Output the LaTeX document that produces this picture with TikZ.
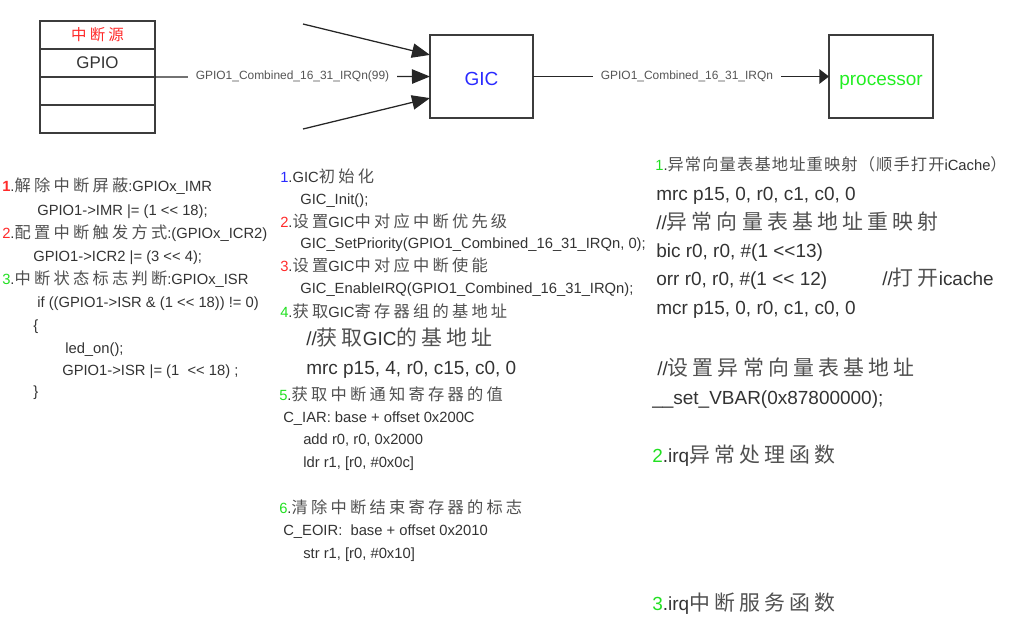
\documentclass[tikz,border=0pt]{standalone}
\usepackage{fontspec}
\setmainfont{Liberation Sans}
\newfontfamily\zhfont[Scale=1.1,LetterSpace=20]{Noto Sans CJK SC}
\newfontfamily\zhtight[Scale=1.1,LetterSpace=7]{Noto Sans CJK SC}
\usetikzlibrary{arrows.meta,positioning,calc}
\definecolor{Txt}{HTML}{333333}
\definecolor{ZhTxt}{HTML}{505050}
\definecolor{LblGray}{HTML}{555555}
\definecolor{Edge}{HTML}{3C3C3C}
\definecolor{NumRed}{HTML}{FF2A2A}
\definecolor{NumGreen}{HTML}{22E022}
\definecolor{NumBlue}{HTML}{2A2AFF}
\definecolor{ProcGreen}{HTML}{22EE22}
\newcommand{\SmallTxt}{\fontsize{10.5pt}{12pt}\selectfont}
\newcommand{\BigTxt}{\fontsize{13.5pt}{16pt}\selectfont}
\newcommand{\LblTxt}{\fontsize{8.5pt}{10pt}\selectfont}
\newcommand{\GpioTxt}{\fontsize{12pt}{14pt}\selectfont}
\newcommand{\zh}[1]{{\zhfont\color{ZhTxt}#1}}
\newcommand{\zht}[1]{{\zhtight\color{ZhTxt}#1}}
\newcommand{\Num}[2]{{\color{#1}#2}.}
\newcommand{\CodeLn}[4]{%
  \node[code] (#1) at (#2,#3) {#4};%
}
\newcommand{\BigLn}[4]{%
  \node[code,font=\BigTxt] (#1) at (#2,#3) {#4};%
}

\begin{document}
\begin{tikzpicture}[x=0.025cm,y=-0.025cm,
  cell/.style={draw=Edge,line width=0.9pt,outer sep=0pt,inner sep=0pt,minimum width=2.875cm,minimum height=0.7cm},
  blk/.style={draw=Edge,line width=0.9pt,outer sep=0pt,minimum height=2.075cm,font=\BigTxt,text height=12.5pt,text depth=0pt},
  sig/.style={line width=0.9pt,draw=black!85,-{Triangle[length=0.45cm,width=0.36cm]}},
  lbl/.style={midway,fill=white,inner xsep=0.2cm,inner ysep=1pt,font=\LblTxt,text=LblGray},
  code/.style={anchor=base west,inner sep=0pt,font=\SmallTxt,text=Txt}]
\useasboundingbox (0,0) rectangle (1016,641);
% interrupt source table
\node[cell,text=NumRed] (src) at (97.5,35) {\zhfont 中断源};
\node[cell,below=0pt of src,font=\GpioTxt,text=Txt] (gpio) {GPIO};
\node[cell,below=0pt of gpio] (row3) {};
\node[cell,below=0pt of row3] (row4) {};
% GIC and processor
\node[blk,minimum width=2.575cm,text=NumBlue] (gic) at (481.5,76.5) {GIC};
\node[blk,minimum width=2.6cm,text=ProcGreen] (cpu) at (881,76.5) {processor};
\coordinate (in1) at (303,24);
\coordinate (in3) at (303,129);
\draw[sig] (in1) -- ($(gic.north west)!0.24!(gic.south west)$);
\draw[sig] (in3) -- ($(gic.north west)!0.76!(gic.south west)$);
\draw[sig] (gpio.south east) -- (gic.west) node[lbl] {GPIO1\_Combined\_16\_31\_IRQn(99)};
\draw[sig,-{Triangle[length=0.24cm,width=0.36cm]}] (gic.east) -- (cpu.west) node[lbl,pos=0.52] {GPIO1\_Combined\_16\_31\_IRQn};
% GPIO side
\CodeLn{a1}{2}{191}{{\bfseries\color{NumRed}1}.\zh{解除中断屏蔽}:GPIOx\_IMR}
\CodeLn{a2}{37}{215}{GPIO1->IMR |= (1 <{}< 18);}
\CodeLn{a3}{2}{238}{\Num{NumRed}{2}\zh{配置中断触发方式}:(GPIOx\_ICR2)}
\CodeLn{a4}{33}{261}{GPIO1->ICR2 |= (3 <{}< 4);}
\CodeLn{a5}{2}{284}{\Num{NumGreen}{3}\zh{中断状态标志判断}:GPIOx\_ISR}
\CodeLn{a6}{37}{307}{if ((GPIO1->ISR \& (1 <{}< 18)) != 0)}
\CodeLn{a7}{33}{330}{\{}
\CodeLn{a8}{65}{353}{led\_on();}
\CodeLn{a9}{62}{375}{GPIO1->ISR |= (1 \ <{}< 18) ;}
\CodeLn{a10}{33}{396}{\}}
% GIC side
\CodeLn{b1}{280}{182}{\Num{NumBlue}{1}GIC\zh{初始化}}
\CodeLn{b2}{300}{204}{GIC\_Init();}
\CodeLn{b3}{280}{227}{\Num{NumRed}{2}\zh{设置}GIC\zh{中对应中断优先级}}
\CodeLn{b4}{300}{248}{GIC\_SetPriority(GPIO1\_Combined\_16\_31\_IRQn, 0);}
\CodeLn{b5}{280}{271}{\Num{NumRed}{3}\zh{设置}GIC\zh{中对应中断使能}}
\CodeLn{b6}{300}{293}{GIC\_EnableIRQ(GPIO1\_Combined\_16\_31\_IRQn);}
\CodeLn{b7}{280}{317}{\Num{NumGreen}{4}\zh{获取}GIC\zh{寄存器组的基地址}}
\BigLn{b8}{306}{345}{//\zh{获取}GIC\zh{的基地址}}
\BigLn{b9}{306}{374}{mrc p15, 4, r0, c15, c0, 0}
\CodeLn{b10}{279}{400}{\Num{NumGreen}{5}\zh{获取中断通知寄存器的值}}
\CodeLn{b11}{283}{422}{C\_IAR: base + offset 0x200C}
\CodeLn{b12}{303}{444}{add r0, r0, 0x2000}
\CodeLn{b13}{303}{467}{ldr r1, [r0, \#0x0c]}
\CodeLn{b14}{279}{513}{\Num{NumGreen}{6}\zh{清除中断结束寄存器的标志}}
\CodeLn{b15}{283}{535}{C\_EOIR:\ \ base + offset 0x2010}
\CodeLn{b16}{303}{558}{str r1, [r0, \#0x10]}
% processor side
\CodeLn{c1}{655}{170}{\Num{NumGreen}{1}\zht{异常向量表基地址重映射（顺手打开}iCache\zht{）}}
\BigLn{c2}{656}{200}{mrc p15, 0, r0, c1, c0, 0}
\BigLn{c3}{656}{229}{//\zh{异常向量表基地址重映射}}
\BigLn{c4}{656}{257}{bic r0, r0, \#(1 <{}<13)}
\BigLn{c5}{656}{285}{orr r0, r0, \#(1 <{}< 12)}
\BigLn{c6}{882}{285}{//\zh{打开}icache}
\BigLn{c7}{656}{314}{mcr p15, 0, r0, c1, c0, 0}
\BigLn{c8}{657}{375}{//\zh{设置异常向量表基地址}}
\BigLn{c9}{652}{404}{\_\_set\_VBAR(0x87800000);}
\BigLn{c10}{652}{462}{\Num{NumGreen}{2}irq\zh{异常处理函数}}
\BigLn{c11}{652}{610}{\Num{NumGreen}{3}irq\zh{中断服务函数}}
\end{tikzpicture}
\end{document}
